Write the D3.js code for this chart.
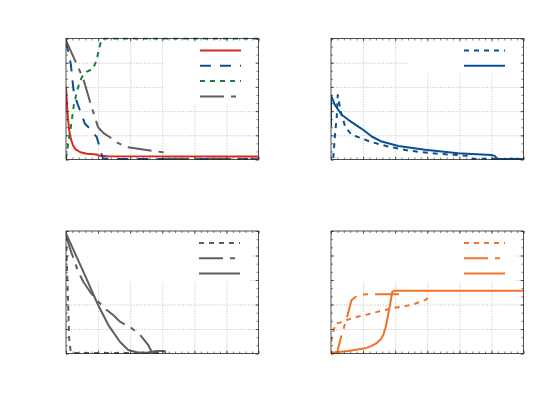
<!DOCTYPE html>
<html>
<head>
<meta charset="utf-8">
<script src="https://cdn.jsdelivr.net/npm/d3@7"></script>
<style>
  body { margin: 0; background: #fff; }
  .grid line { stroke: #a6a6a6; stroke-width: 0.7; stroke-dasharray: 1,1.6; }
  .tk line { stroke: #262626; stroke-width: 0.6; }
  .tk path { display: none; }
  .line { fill: none; stroke-width: 2; stroke-linejoin: round; }
</style>
</head>
<body>
<div id="chart"></div>
<script>
// axis ranges shared by all four panels
var xMajor = [0, 1, 2, 3, 4, 5, 6];
var yMajor = [0, 1, 2, 3, 4, 5];
var xMinor = d3.range(0, 30.5).map(function(i) { return i * 0.2; });
var yMinor = d3.range(0, 15.5).map(function(i) { return i / 3; });

// panel 1 (top left)
var p1Red = [[0,3.0],[0.03,2.3],[0.06,1.7],[0.1,1.2],[0.15,0.85],[0.22,0.58],[0.3,0.42],[0.45,0.3],[0.65,0.24],[0.95,0.21],[1.05,0.15],[1.3,0.13],[6,0.12]];
var p1Blue = [[0,4.9],[0.15,3.94],[0.23,2.92],[0.28,2.6],[0.38,2.23],[0.59,1.48],[0.75,1.27],[0.96,0.92],[1.06,0.44],[1.15,0.04],[1.4,0.02],[6,0.02]];
var p1Green = [[0,0.04],[0.07,0.66],[0.15,1.33],[0.25,2.31],[0.38,3.0],[0.49,3.4],[0.64,3.62],[0.85,3.76],[0.95,4.1],[1.03,4.57],[1.11,4.98],[1.2,5],[6,5]];
var p1Gray = [[0,4.92],[0.33,3.95],[0.54,3.33],[0.8,2.16],[1.0,1.33],[1.18,1.08],[1.37,0.92],[1.6,0.7],[1.89,0.51],[2.25,0.44],[3.02,0.3],[3.03,0.03],[6,0.03]];

// panel 2 (top right)
var p2Dot = [[0.07,0.06],[0.12,0.95],[0.18,1.78],[0.21,2.67],[0.3,2.0],[0.44,1.36],[0.64,1.02],[0.95,0.88],[1.21,0.74],[1.78,0.54],[2.4,0.37],[3.13,0.26],[4.28,0.15],[4.38,0.03],[6,0.02]];
var p2Solid = [[0,1.36],[0,2.65],[0.12,2.26],[0.33,1.85],[0.54,1.64],[0.85,1.36],[1.01,1.22],[1.27,0.95],[1.58,0.74],[2.1,0.56],[2.93,0.4],[3.96,0.26],[4.99,0.19],[5.1,0.15],[5.18,0.03],[6,0.02]];

// panel 3 (bottom left)
var p3Dot = [[0,4.8],[0.05,2.8],[0.1,0.6],[0.15,0.04],[0.3,0.02],[3,0.02]];
var p3DashDot = [[0,4.84],[0.12,4.3],[0.38,3.34],[0.54,2.93],[0.75,2.52],[0.96,2.18],[1.21,1.84],[1.47,1.57],[1.68,1.3],[2.05,1.03],[2.31,0.76],[2.56,0.35],[2.67,0.07],[2.75,0.02]];
var p3Solid = [[0,4.9],[0.54,3.34],[1.0,1.98],[1.32,1.16],[1.68,0.48],[1.94,0.14],[2.2,0.05],[2.51,0.03],[2.82,0.1],[3.08,0.1],[3.1,0.02]];

// panel 4 (bottom right)
var p4Dot = [[0,0.48],[0.07,0.89],[0.15,1.23],[0.28,1.26],[0.49,1.37],[0.85,1.51],[1.16,1.6],[1.47,1.71],[1.99,1.87],[2.51,1.98],[2.93,2.18],[3.08,2.32]];
var p4DashDot = [[0,0.03],[0.19,0.03],[0.33,0.76],[0.49,1.44],[0.64,2.18],[0.85,2.39],[1.16,2.42],[1.89,2.42],[2.25,2.42]];
var p4Solid = [[0,0.03],[0.54,0.1],[1.06,0.21],[1.25,0.3],[1.42,0.42],[1.55,0.58],[1.63,0.76],[1.7,1.05],[1.74,1.3],[1.84,1.98],[1.91,2.52],[2.0,2.56],[6,2.56]];

var red = "#d8291c", blue = "#0a4f94", green = "#17803d", gray = "#5f5f5f", orange = "#ef7328";
var dashed = "11,9", dotted = "5,5", dashDot = "24,7,5,7";

var panels = [
  {x: 66, y: 38.5, w: 192.5, h: 121, mask: [163, 38.5, 96, 66], legX: 200,
   series: [{d: p1Red, c: red, dash: null}, {d: p1Blue, c: blue, dash: dashed},
            {d: p1Green, c: green, dash: dotted}, {d: p1Gray, c: gray, dash: dashDot}]},
  {x: 331, y: 38.5, w: 192.5, h: 121, mask: [408, 38.5, 116, 35], legX: 464,
   series: [{d: p2Dot, c: blue, dash: dotted}, {d: p2Solid, c: blue, dash: null}]},
  {x: 66, y: 231, w: 192.5, h: 122.5, mask: [66, 231, 184, 51], legX: 199,
   series: [{d: p3Dot, c: gray, dash: dotted}, {d: p3DashDot, c: gray, dash: dashDot}, {d: p3Solid, c: gray, dash: null}]},
  {x: 331, y: 231, w: 192.5, h: 122.5, mask: [331, 231, 184, 51], legX: 464,
   series: [{d: p4Dot, c: orange, dash: dotted}, {d: p4DashDot, c: orange, dash: dashDot}, {d: p4Solid, c: orange, dash: null}]}
];

var svg = d3.select("#chart").append("svg").attr("width", 550).attr("height", 393);

panels.forEach(function(p, pi) {
  var x = d3.scaleLinear().domain([0, 6]).range([p.x, p.x + p.w]);
  var y = d3.scaleLinear().domain([0, 5]).range([p.y + p.h, p.y]);
  var g = svg.append("g");

  g.append("rect").attr("x", p.x).attr("y", p.y).attr("width", p.w).attr("height", p.h).attr("fill", "#fff");

  // grid
  g.append("g").attr("class", "grid").attr("transform", "translate(0," + (p.y + p.h) + ")")
    .call(d3.axisBottom(x).tickValues(xMajor.slice(1, -1)).tickSize(-p.h).tickFormat(""))
    .select(".domain").remove();
  g.append("g").attr("class", "grid").attr("transform", "translate(" + p.x + ",0)")
    .call(d3.axisLeft(y).tickValues(yMajor.slice(1, -1)).tickSize(-p.w).tickFormat(""))
    .select(".domain").remove();

  // legend background hides grid underneath
  g.append("rect").attr("x", p.mask[0]).attr("y", p.mask[1]).attr("width", p.mask[2]).attr("height", p.mask[3]).attr("fill", "#fff");

  svg.append("clipPath").attr("id", "clip" + pi).append("rect")
    .attr("x", p.x).attr("y", p.y - 1).attr("width", p.w).attr("height", p.h + 2);

  var line = d3.line().x(function(d) { return x(d[0]); }).y(function(d) { return y(d[1]); });

  g.append("g").attr("clip-path", "url(#clip" + pi + ")")
    .selectAll("path").data(p.series).enter().append("path")
      .attr("class", "line")
      .attr("d", function(s) { return line(s.d); })
      .attr("stroke", function(s) { return s.c; })
      .attr("stroke-dasharray", function(s) { return s.dash; });

  // ticks on all four sides, pointing inside
  [[d3.axisBottom(x), xMajor, 3, "translate(0," + (p.y + p.h) + ")"],
   [d3.axisBottom(x), xMinor, 2, "translate(0," + (p.y + p.h) + ")"],
   [d3.axisTop(x), xMajor, 3, "translate(0," + p.y + ")"],
   [d3.axisTop(x), xMinor, 2, "translate(0," + p.y + ")"],
   [d3.axisLeft(y), yMajor, 3, "translate(" + p.x + ",0)"],
   [d3.axisLeft(y), yMinor, 2, "translate(" + p.x + ",0)"],
   [d3.axisRight(y), yMajor, 3, "translate(" + (p.x + p.w) + ",0)"],
   [d3.axisRight(y), yMinor, 2, "translate(" + (p.x + p.w) + ",0)"]].forEach(function(a) {
    g.append("g").attr("class", "tk").attr("transform", a[3])
      .call(a[0].tickValues(a[1]).tickSize(-a[2]).tickFormat(""));
  });

  g.append("rect").attr("x", p.x).attr("y", p.y).attr("width", p.w).attr("height", p.h)
    .attr("fill", "none").attr("stroke", "#262626").attr("stroke-width", 0.8);

  // legend samples (no labels in the source)
  var leg = g.selectAll(".leg").data(p.series).enter().append("line")
    .attr("x1", p.legX).attr("x2", p.legX + 41)
    .attr("y1", function(s, i) { return p.y + 12 + i * 15.3; })
    .attr("y2", function(s, i) { return p.y + 12 + i * 15.3; })
    .attr("stroke", function(s) { return s.c; })
    .attr("stroke-width", 2)
    .attr("stroke-dasharray", function(s) { return s.dash; });
});
</script>
</body>
</html>
